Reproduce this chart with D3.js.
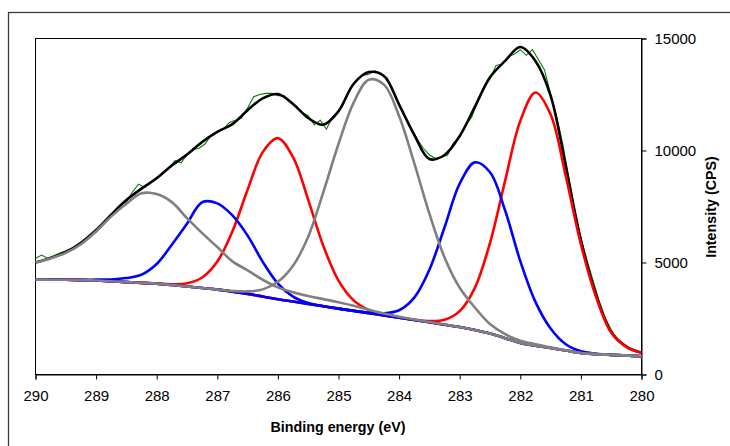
<!DOCTYPE html>
<html><head><meta charset="utf-8">
<script src="https://cdn.jsdelivr.net/npm/d3@7"></script>
<style>body{margin:0;background:#fff}svg{display:block}</style>
</head><body>
<svg id="chart" width="730" height="446"></svg>
<script>
// Binding energy grid (eV) for fitted curves
const energies = [290,289.75,289.5,289.25,289,288.75,288.5,288.25,288,287.75,287.5,287.25,287,286.75,286.5,286.25,286,285.75,285.5,285.25,285,284.75,284.5,284.25,284,283.75,283.5,283.25,283,282.75,282.5,282.25,282,281.75,281.5,281.25,281,280.75,280.5,280.25,280];
const background = [4235,4233,4228,4215,4195,4160,4125,4090,4055,3995,3930,3860,3790,3700,3600,3480,3360,3255,3150,3045,2940,2840,2740,2640,2540,2435,2330,2225,2120,1990,1830,1620,1410,1290,1180,1070,960,910,875,845,816];
const envelope = [4995,5200,5460,5880,6450,7140,7790,8300,8760,9330,9820,10380,10830,11180,11800,12330,12520,12080,11450,11150,11750,12980,13500,13330,12050,10700,9620,9800,10650,11950,13270,14000,14620,14000,12450,9300,6000,3550,1900,1250,970];
const peakGray288 = [4995,5183,5428,5815,6385,7060,7625,8090,8055,7695,6980,6310,5690,5050,4650,4230,3890,3675,3500,3365,3230,3070,2890,2720,2580,2455,2340,2230,2120,1990,1830,1620,1410,1290,1180,1070,960,910,875,845,816];
const peakBlue287 = [4235,4235,4233,4230,4235,4240,4305,4460,4935,5795,6730,7690,7640,7100,6200,5030,4060,3475,3190,3050,2940,2840,2740,2640,2540,2435,2330,2225,2120,1990,1830,1620,1410,1290,1180,1070,960,910,875,845,816];
const peakRed286 = [4235,4233,4228,4215,4195,4160,4125,4090,4062,4029,4071,4329,5043,6392,8246,9927,10550,9702,7796,5737,4193,3309,2881,2674,2547,2435,2330,2225,2120,1990,1830,1620,1410,1290,1180,1070,960,910,875,845,816];
const peakGray284 = [4235,4233,4228,4215,4195,4160,4125,4090,4055,3995,3930,3860,3790,3730,3710,3800,4140,4855,6150,8145,10290,12140,13160,12940,11540,9435,7180,5225,3870,2990,2250,1800,1510,1350,1210,1080,960,910,875,845,816];
const peakBlue283 = [4235,4233,4228,4215,4195,4160,4125,4090,4055,3995,3930,3860,3790,3700,3600,3480,3360,3255,3150,3045,2940,2845,2760,2730,2870,3435,4680,6575,8520,9470,9030,7320,5060,3240,2050,1350,1040,930,875,845,816];
const peakRed282 = [4235,4233,4228,4215,4195,4160,4125,4090,4055,3995,3930,3860,3790,3700,3600,3480,3360,3255,3150,3045,2940,2840,2740,2640,2540,2445,2383,2440,2828,3870,5873,8657,11323,12590,11610,8860,5810,3460,1875,1225,966];
// Raw data (0.1 eV steps, 290 -> 280)
const rawEnergies = d3.range(0,101).map(i => +(290 - i*0.1).toFixed(1));
const rawCounts = [5180,5330,5190,5300,5420,5520,5640,5760,5900,6200,6350,6620,6900,7230,7550,7700,8150,8500,8350,8600,8800,8980,9200,9550,9450,9800,10050,10100,10300,10700,10850,10950,11250,11350,11450,11900,12400,12500,12550,12550,12450,12450,12150,11950,11700,11550,11150,11350,10950,11500,11700,12200,12750,13100,13350,13400,13550,13400,13250,12600,12050,11550,11000,10500,10100,9800,9650,9700,9800,10350,10600,11150,11500,12250,12800,13200,13800,13850,14200,14300,14500,14250,14500,14050,13600,12500,11500,10300,8800,7300,6100,5100,4200,3300,2550,2000,1550,1300,1120,1020,960];
const xTicks = [290,289,288,287,286,285,284,283,282,281,280];
const yTicks = [0,5000,10000,15000];
const xTitle = "Binding energy (eV)";
const yTitle = "Intensity (CPS)";

const svg = d3.select("#chart");
const x = d3.scaleLinear().domain([290,280]).range([35.5,641.5]);
const y = d3.scaleLinear().domain([0,15000]).range([374.5,38.5]);

// outer frame
svg.append("rect").attr("x",8.5).attr("y",12.5).attr("width",900).attr("height",900)
  .attr("fill","none").attr("stroke","#3a3a3a").attr("stroke-width",1.3);

// plot frame
svg.append("rect").attr("x",35.5).attr("y",38.5).attr("width",606).attr("height",336)
  .attr("fill","#fff").attr("stroke","#000").attr("stroke-width",1);

const font = "'Liberation Sans', Arial, sans-serif";

// X axis
const xAxis = d3.axisBottom(x).tickValues(xTicks).tickSize(5).tickPadding(11).tickFormat(d3.format("d"));
const gx = svg.append("g").attr("transform","translate(0,374.5)").call(xAxis);
gx.select(".domain").attr("stroke","#000");
gx.selectAll(".tick line").attr("stroke","#000");
gx.selectAll("text").attr("font-family",font).attr("font-size",15).attr("fill","#000");

// Y axis right
const yAxis = d3.axisRight(y).tickValues(yTicks).tickSize(5).tickPadding(8).tickFormat(d3.format("d"));
const gy = svg.append("g").attr("transform","translate(641.5,0)").call(yAxis);
gy.select(".domain").attr("stroke","#000");
gy.selectAll(".tick line").attr("stroke","#000");
gy.selectAll("text").attr("font-family",font).attr("font-size",15).attr("fill","#000");

svg.append("text").attr("x",338).attr("y",432).attr("text-anchor","middle")
  .attr("font-family",font).attr("font-weight","bold").attr("font-size",14.3).text(xTitle);
svg.append("text").attr("transform","translate(716,207) rotate(-90)").attr("text-anchor","middle")
  .attr("font-family",font).attr("font-weight","bold").attr("font-size",14.3).text(yTitle);

const plot = svg.append("g");
const lineFit = d3.line().x((d,i)=>x(energies[i])).y(d=>y(d)).curve(d3.curveCatmullRom.alpha(0.5));
const lineRaw = d3.line().x((d,i)=>x(rawEnergies[i])).y(d=>y(d));

plot.append("path").attr("d",lineRaw(rawCounts)).attr("fill","none").attr("stroke","#008000").attr("stroke-width",1.1);
plot.append("path").attr("d",lineFit(envelope)).attr("fill","none").attr("stroke","#000").attr("stroke-width",2.6);
plot.append("path").attr("d",lineFit(background)).attr("fill","none").attr("stroke","#9966cc").attr("stroke-width",2.6);

const comps = [
  [peakRed286,"#ff0000"],[peakRed282,"#ff0000"],
  [peakBlue287,"#0000ff"],[peakBlue283,"#0000ff"],
  [peakGray288,"#808080"],[peakGray284,"#808080"]
];
comps.forEach(([vals,col])=>{
  plot.append("path").attr("d",lineFit(vals)).attr("fill","none").attr("stroke",col).attr("stroke-width",2.6).attr("stroke-linejoin","round");
});
</script>
</body></html>
